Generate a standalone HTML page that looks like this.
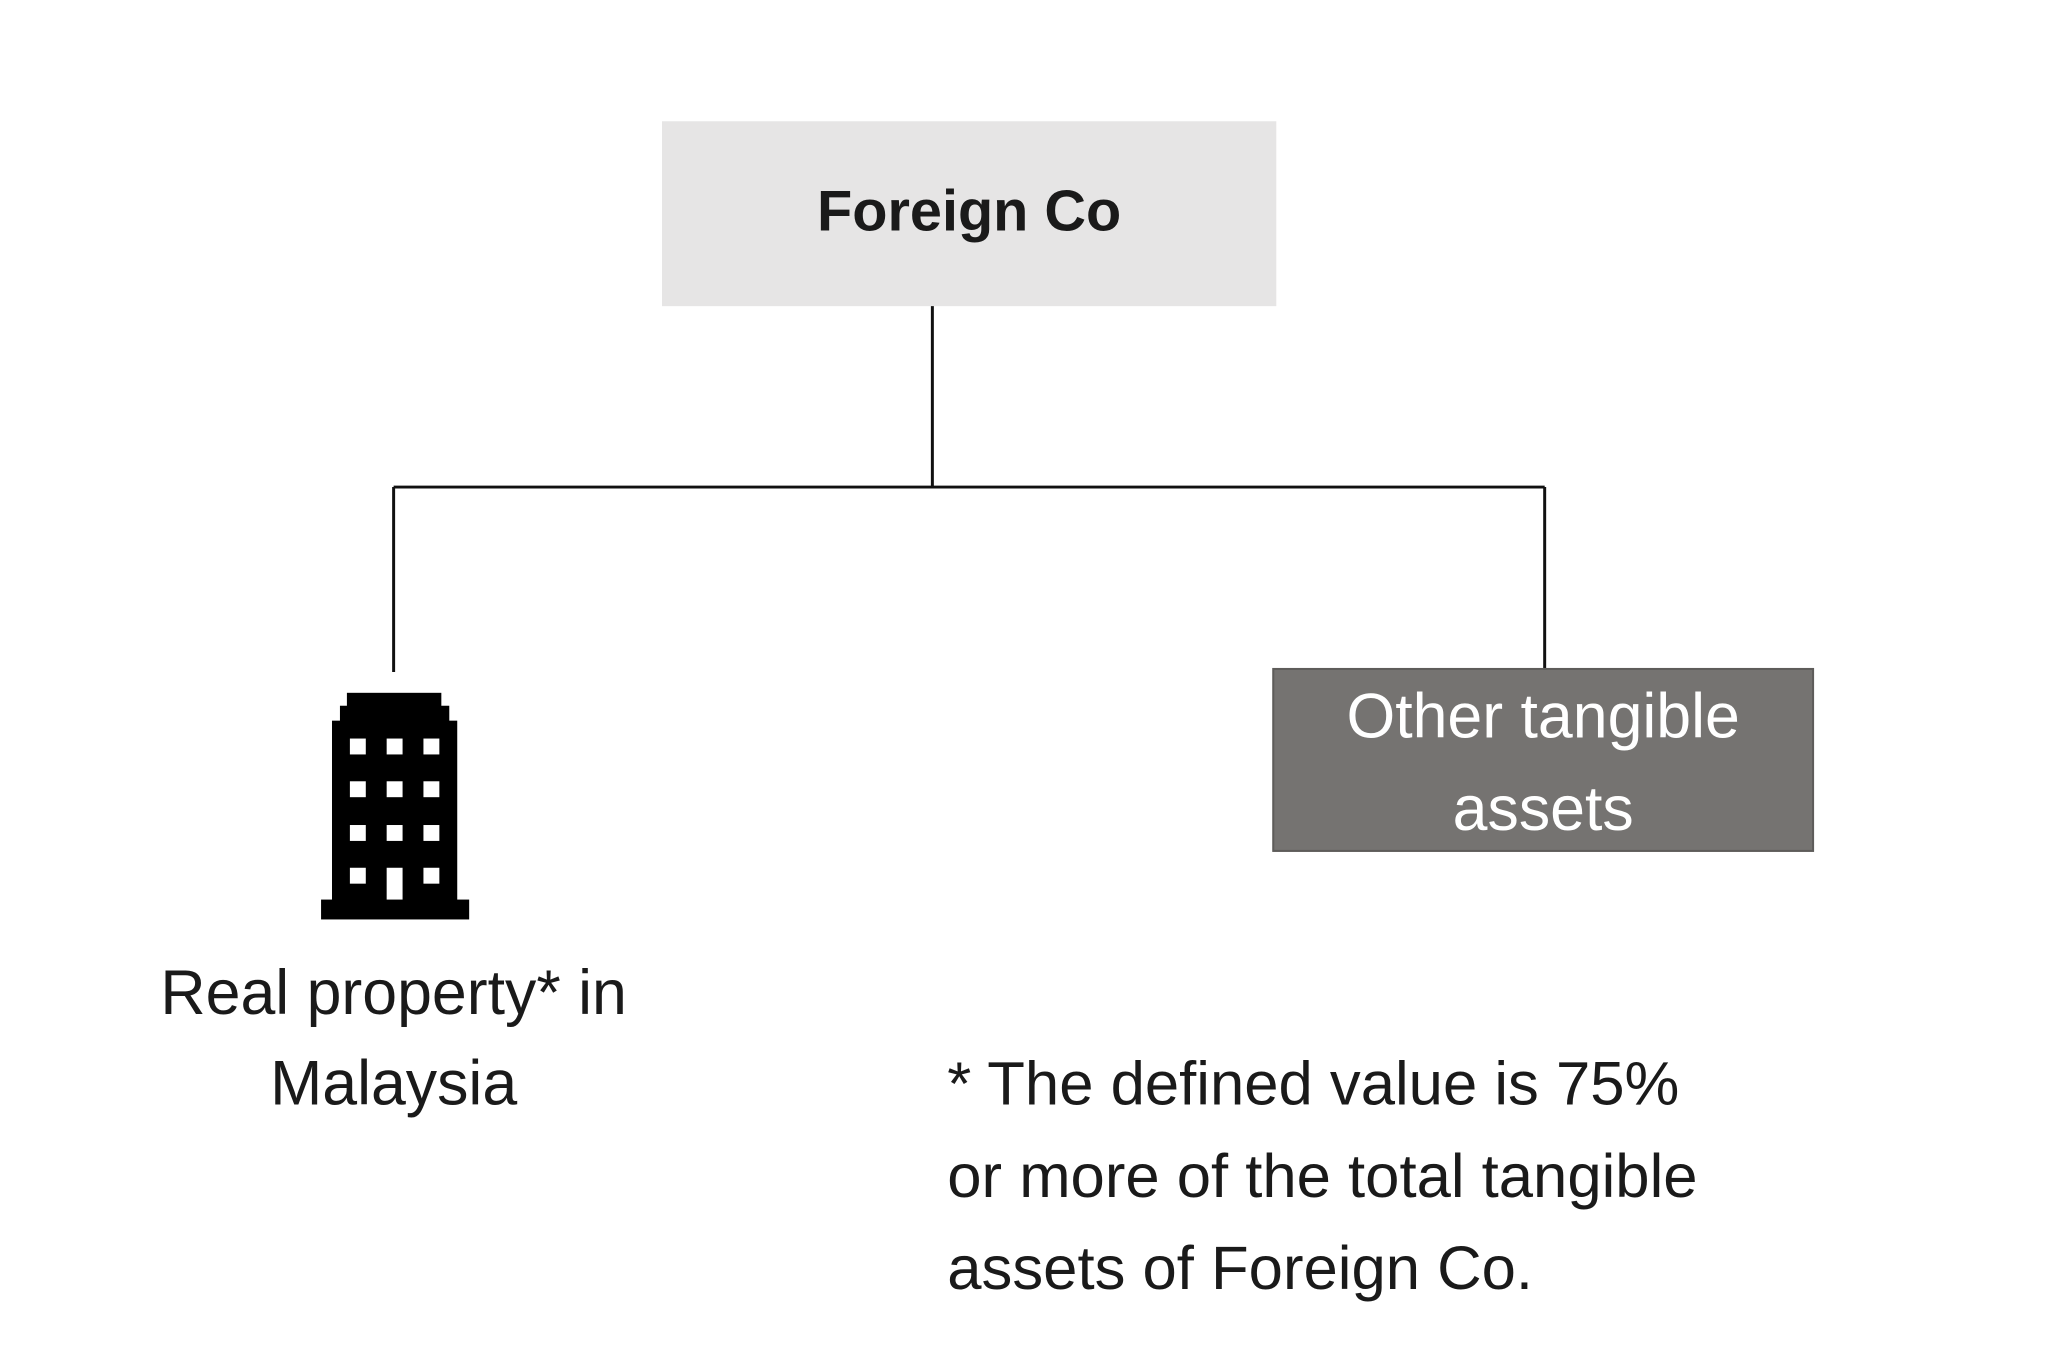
<!DOCTYPE html>
<html><head><style>
body{margin:0;width:2048px;height:1365px;background:#fff;position:relative;overflow:hidden;font-family:"Liberation Sans",sans-serif;color:#1a1a1a}
#w{position:absolute;left:0;top:0;width:2048px;height:1365px;transform:scale(0.994);transform-origin:0 0}
.a{position:absolute}
.t{position:absolute;white-space:nowrap;font-size:62px;line-height:1}
</style></head><body><div id="w">
<div class="a" style="left:666px;top:122px;width:618px;height:186px;background:#e6e5e5"></div>
<div class="t" style="left:666px;width:618px;text-align:center;top:184px;font-size:58px;font-weight:bold">Foreign Co</div>
<svg class="a" style="left:0;top:0" width="2048" height="1365">
<path d="M938 308V490M396 490H1554M396 490V676M1554 490V676" stroke="#111" stroke-width="3" fill="none"/>
<g transform="translate(2,5)">
<g fill="#000">
<rect x="321" y="900" width="149" height="20"/>
<rect x="332" y="720" width="126" height="182"/>
<rect x="340" y="705" width="110" height="20"/>
<rect x="347" y="692" width="95" height="20"/>
</g>
<g fill="#fff">
<rect x="350" y="738" width="16" height="16"/><rect x="387" y="738" width="16" height="16"/><rect x="424" y="738" width="16" height="16"/>
<rect x="350" y="781" width="16" height="16"/><rect x="387" y="781" width="16" height="16"/><rect x="424" y="781" width="16" height="16"/>
<rect x="350" y="825" width="16" height="16"/><rect x="387" y="825" width="16" height="16"/><rect x="424" y="825" width="16" height="16"/>
<rect x="350" y="868" width="16" height="16"/><rect x="387" y="868" width="16" height="32"/><rect x="424" y="868" width="16" height="16"/>
</g>
</g>
</svg>
<div class="a" style="left:1280px;top:672px;width:545px;height:185px;background:#757371;border:2px solid #5e5c5a;box-sizing:border-box"></div>
<div class="t" style="left:1280px;width:545px;text-align:center;top:690px;color:#fff;font-size:63px">Other tangible</div>
<div class="t" style="left:1280px;width:545px;text-align:center;top:783px;color:#fff;font-size:63px">assets</div>
<div class="t" style="left:96px;width:600px;text-align:center;top:968px;font-size:63px">Real property* in</div>
<div class="t" style="left:96px;width:600px;text-align:center;top:1059px;font-size:63px">Malaysia</div>
<div class="t" style="left:953px;top:1060px">* The defined value is 75%</div>
<div class="t" style="left:953px;top:1153px">or more of the total tangible</div>
<div class="t" style="left:953px;top:1246px">assets of Foreign Co.</div>
</div></body></html>
